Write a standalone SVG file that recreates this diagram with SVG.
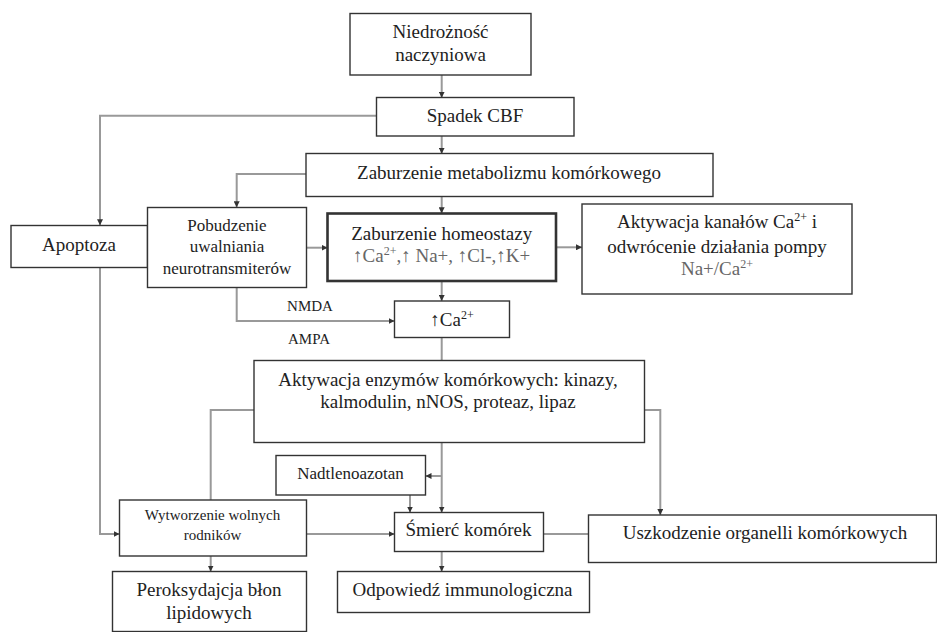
<svg xmlns="http://www.w3.org/2000/svg" width="937" height="632" viewBox="0 0 937 632">
<defs>
<marker id="ah" markerUnits="userSpaceOnUse" markerWidth="6" markerHeight="6" refX="6" refY="3" orient="auto">
<path d="M0,0 L6,3 L0,6 z" fill="#333"/>
</marker>
<style>
rect{fill:#fff;stroke:#333;stroke-width:1.4}
.thick{stroke-width:2.6}
text{font-family:"Liberation Serif","Times New Roman",serif;fill:#222;text-anchor:middle}
.l{font-size:19px}
.m{font-size:17px}
.s{font-size:15px}
.g{fill:#666}
.sup{font-size:12px}
#connectors path{fill:none;stroke:#999;stroke-width:2}
.a{marker-end:url(#ah)}
</style>
</defs>
<rect x="0" y="0" width="937" height="632" style="fill:#fff;stroke:none"/>
<g id="connectors">
<path class="a" d="M441.7,75 V97.7"/>
<path class="a" d="M376.7,115.7 H100 V225.3"/>
<path class="a" d="M441.7,136 V153.7"/>
<path class="a" d="M306,174 H236.7 V207.3"/>
<path class="a" d="M441.7,196.7 V213.3"/>
<path class="a" d="M306.3,247.7 H327.5"/>
<path class="a" d="M556,247.3 H582"/>
<path class="a" d="M441.7,281 V301"/>
<path class="a" d="M236.7,287.3 V321 H394.5"/>
<path d="M441.7,337.7 V360.7"/>
<path d="M254,410 H210.7 V500"/>
<path class="a" d="M644.5,410 H660.3 V515"/>
<path class="a" d="M441.7,442.7 V512.5"/>
<path class="a" d="M441.7,476 H425.5"/>
<path class="a" d="M410,495 V512.5"/>
<path class="a" d="M100,267.7 V534 H119.5"/>
<path class="a" d="M306.5,534 H394.5"/>
<path class="a" d="M210.7,556 V571.5"/>
<path d="M543.5,534 H588.5"/>
<path class="a" d="M441.7,551.5 V571.5"/>
</g>
<g id="n1"><rect x="350" y="13.5" width="181" height="61.5"/>
<text class="l" x="440.5" y="38">Niedrożność</text><text class="l" x="440.5" y="61">naczyniowa</text></g>
<g id="n2"><rect x="376.5" y="97.5" width="197.5" height="38.5"/>
<text class="l" x="475" y="122">Spadek CBF</text></g>
<g id="n3"><rect x="306" y="153.5" width="407" height="43"/>
<text class="l" x="509" y="178.5">Zaburzenie metabolizmu komórkowego</text></g>
<g id="n4"><rect x="11" y="225.5" width="136.5" height="42"/>
<text class="l" x="79" y="250.5">Apoptoza</text></g>
<g id="n5"><rect x="147.5" y="207.5" width="159" height="80"/>
<text class="m" x="227" y="230.5">Pobudzenie</text><text class="m" x="227" y="252">uwalniania</text><text class="m" x="227" y="273.5">neurotransmiterów</text></g>
<g id="n6"><rect class="thick" x="327.5" y="213.5" width="228.5" height="67.5"/>
<text class="l" x="441.7" y="239.5">Zaburzenie homeostazy</text>
<text class="l g" x="441.7" y="261.5">↑Ca<tspan class="sup" dy="-7">2+</tspan><tspan dy="7">,↑ Na+, ↑Cl-,↑K+</tspan></text></g>
<g id="n7"><rect x="582" y="204" width="270" height="90"/>
<text class="l" x="717" y="228">Aktywacja kanałów Ca<tspan class="sup" dy="-7">2+</tspan><tspan dy="7"> i</tspan></text>
<text class="l" x="717" y="252.5">odwrócenie działania pompy</text>
<text class="l g" x="717" y="275">Na+/Ca<tspan class="sup" dy="-7">2+</tspan></text></g>
<g id="n8"><rect x="394.5" y="301" width="115" height="36.5"/>
<text class="l" x="452" y="326">↑Ca<tspan class="sup" dy="-7">2+</tspan></text></g>
<g id="lbl"><text class="s" x="310" y="311">NMDA</text><text class="s" x="309" y="344">AMPA</text></g>
<g id="n9"><rect x="254" y="360.5" width="390.5" height="82"/>
<text class="l" x="448" y="385.5">Aktywacja enzymów komórkowych: kinazy,</text>
<text class="l" x="448" y="408">kalmodulin, nNOS, proteaz, lipaz</text></g>
<g id="n10"><rect x="276" y="455.5" width="149.5" height="39.5"/>
<text class="m" x="350.5" y="479">Nadtlenoazotan</text></g>
<g id="n11"><rect x="119.5" y="500" width="187" height="56"/>
<text class="s" x="212.5" y="520">Wytworzenie wolnych</text><text class="s" x="212.5" y="540">rodników</text></g>
<g id="n12"><rect x="394.5" y="512.5" width="149" height="39"/>
<text class="l" x="468.5" y="535.5">Śmierć komórek</text></g>
<g id="n13"><rect x="588.5" y="515" width="348" height="47.5"/>
<text class="l" x="765" y="538.5">Uszkodzenie organelli komórkowych</text></g>
<g id="n14"><rect x="112.5" y="571.5" width="194" height="60"/>
<text class="l" x="209" y="596">Peroksydajcja błon</text><text class="l" x="209" y="619">lipidowych</text></g>
<g id="n15"><rect x="337.5" y="571.5" width="252" height="41"/>
<text class="l" x="462.5" y="596">Odpowiedź immunologiczna</text></g>
</svg>
